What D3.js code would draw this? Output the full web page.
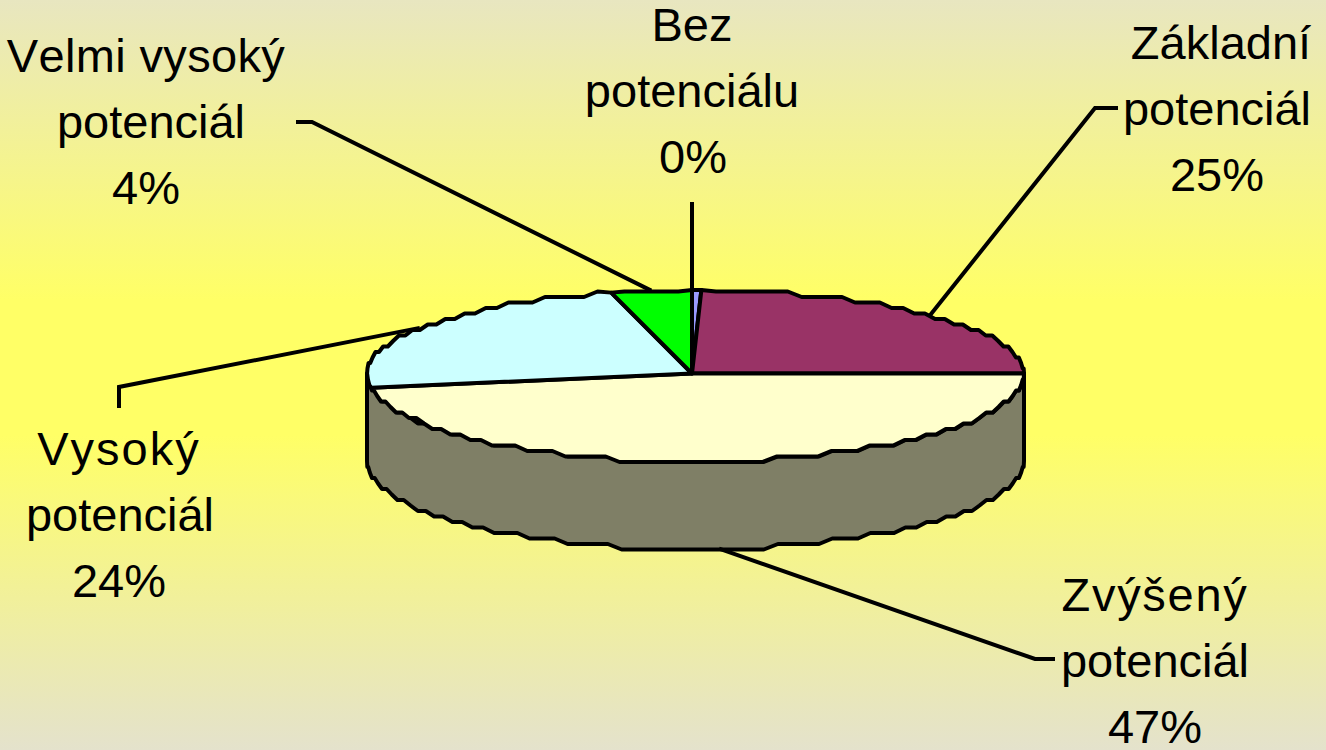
<!DOCTYPE html>
<html>
<head>
<meta charset="utf-8">
<script src="https://cdnjs.cloudflare.com/ajax/libs/d3/7.8.5/d3.min.js"></script>
<style>
  html, body { margin: 0; padding: 0; overflow: hidden; }
  svg { display: block; }
  text { font-family: "Liberation Sans", Arial, sans-serif; font-size: 47px; fill: #000; font-kerning: none; }
</style>
</head>
<body>
<script>
// clockwise from 12 o'clock, same order as the source pie
const categories = ["Bez potenciálu", "Základní potenciál", "Zvýšený potenciál", "Vysoký potenciál", "Velmi vysoký potenciál"];
const shares = [0.45, 24.55, 47.4, 23.6, 4];
const percentLabels = ["0%", "25%", "47%", "24%", "4%"];
const sliceColors = ["#9999ff", "#993366", "#ffffcc", "#ccffff", "#00ff00"];

const width = 1326, height = 750;
const depth = 87.5;
const lineHeight = 66;

// label placement, leader runs label -> elbow -> middle of the slice edge
// xs = centre of each text line, they are not quite aligned in the source
// spread = extra letter spacing on the first line
const labelLayout = [
  {xs: [692, 692, 693], y: 41, spread: 0, lines: ["Bez", "potenciálu"], elbow: [[692, 202]]},
  {xs: [1221, 1217, 1217], y: 59, spread: 0, lines: ["Základní", "potenciál"], elbow: [[1118, 108], [1095, 108]]},
  {xs: [1155, 1155, 1155], y: 611, spread: 1.7, lines: ["Zvýšený", "potenciál"], elbow: [[1055, 659], [1035, 659]]},
  {xs: [119, 120, 119], y: 465, spread: 2, lines: ["Vysoký", "potenciál"], elbow: [[119, 408], [119, 387]]},
  {xs: [146, 151, 146], y: 72, spread: 0.35, lines: ["Velmi vysoký", "potenciál"], elbow: [[296, 122], [312, 122]]}
];

const svg = d3.select("body").append("svg")
  .attr("width", width)
  .attr("height", height);

const grad = svg.append("defs").append("linearGradient")
  .attr("id", "bg")
  .attr("x1", 0).attr("y1", 0).attr("x2", 0).attr("y2", 1);
[[0, "#e8e6c0"], [0.4, "#ffff66"], [0.58, "#ffff66"], [1, "#e4e2cc"]].forEach(s => {
  grad.append("stop").attr("offset", s[0]).attr("stop-color", s[1]);
});
svg.append("rect").attr("width", width).attr("height", height).attr("fill", "url(#bg)");

// unit circle -> tilted ellipse on the page
const xScale = d3.scaleLinear().domain([-1, 0, 1]).range([367, 692, 1024]);
const yScale = d3.scaleLinear().domain([-1, 0, 1]).range([461.5, 373.5, 290]);

const arcs = d3.pie().sort(null).startAngle(0).endAngle(2 * Math.PI)(shares);

const rimX = a => xScale(Math.sin(a));
const rimY = a => yScale(Math.cos(a));

// the source is a coarse metafile, its rim is stepped rather than smooth
const snap = (v, step) => Math.round(v / step) * step;
function rimPoints(a0, a1) {
  const n = Math.max(1, Math.round((a1 - a0) / (2.5 * Math.PI / 180)));
  return d3.range(n + 1).map(i => {
    const a = a0 + (a1 - a0) * i / n;
    if (i == 0 || i == n) return [rimX(a), rimY(a)];
    return [rimX(a), snap(rimY(a), 5.5)];
  });
}

const line = d3.line();
const stroke = g => g.attr("stroke", "#000").attr("stroke-width", 4).attr("stroke-linejoin", "round");

// side wall, the near half of the rim pushed down by the depth
const wallRim = rimPoints(Math.PI / 2, 3 * Math.PI / 2);
const wall = wallRim.concat(wallRim.slice().reverse().map(p => [p[0], p[1] + depth]));
svg.append("path")
  .attr("d", line(wall) + "Z")
  .attr("fill", d3.rgb(sliceColors[2]).darker(1.95))
  .call(stroke);

svg.append("g").selectAll("path")
  .data(arcs)
  .join("path")
    .attr("d", d => line([[xScale(0), yScale(0)]].concat(rimPoints(d.startAngle, d.endAngle))) + "Z")
    .attr("fill", (d, i) => sliceColors[i])
    .call(stroke);

// leaders, a sliver slice takes its leader from the starting edge
svg.append("g").selectAll("path")
  .data(arcs)
  .join("path")
    .attr("fill", "none")
    .attr("stroke", "#000")
    .attr("stroke-width", 4)
    .attr("d", (d, i) => {
      const sliver = d.endAngle - d.startAngle < 0.05;
      const mid = sliver ? d.startAngle : (d.startAngle + d.endAngle) / 2;
      const drop = Math.cos(mid) < 0 ? depth : 0;
      return line(labelLayout[i].elbow.concat([[rimX(mid), rimY(mid) + drop]]));
    });

// labels
const labels = svg.append("g").selectAll("text")
  .data(labelLayout)
  .join("text")
    .attr("text-anchor", "middle");
labels.each(function(d, i) {
  const t = d3.select(this);
  d.lines.concat([percentLabels[i]]).forEach((s, j) => {
    t.append("tspan")
      .attr("x", d.xs[j])
      .attr("y", d.y + j * lineHeight)
      .style("letter-spacing", j == 0 ? d.spread + "px" : null)
      .text(s);
  });
});
</script>
</body>
</html>
